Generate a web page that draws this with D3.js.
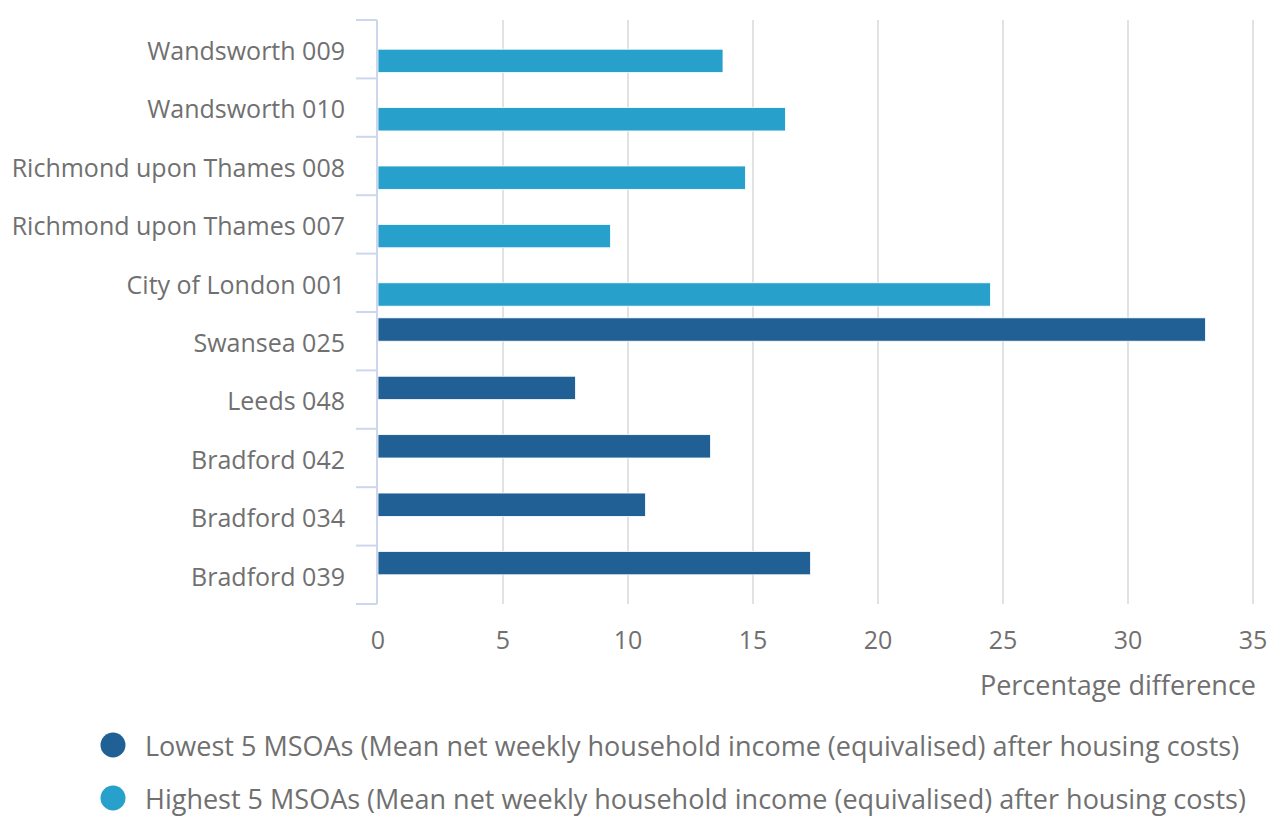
<!DOCTYPE html>
<html>
<head>
<meta charset="utf-8">
<script src="https://cdn.jsdelivr.net/npm/d3@7"></script>
<style>
  body { margin: 0; background: #fff; }
  text { font-family: "Open Sans", sans-serif; fill: #707070; }
</style>
</head>
<body>
<div id="chart"></div>
<script>
var svgWidth = 1269;
var svgHeight = 817;
var margin = { top: 20, right: 15, bottom: 213, left: 378 };
var width = svgWidth - margin.left - margin.right;
var height = svgHeight - margin.top - margin.bottom;

// data
var categories = ["Wandsworth 009", "Wandsworth 010", "Richmond upon Thames 008", "Richmond upon Thames 007",
  "City of London 001", "Swansea 025", "Leeds 048", "Bradford 042", "Bradford 034", "Bradford 039"];
var seriesNames = ["Lowest 5 MSOAs (Mean net weekly household income (equivalised) after housing costs)",
  "Highest 5 MSOAs (Mean net weekly household income (equivalised) after housing costs)"];
var lowestValues = [null, null, null, null, null, 33.1, 7.9, 13.3, 10.7, 17.3];
var highestValues = [13.8, 16.3, 14.7, 9.3, 24.5, null, null, null, null, null];
var xTicks = [0, 5, 10, 15, 20, 25, 30, 35];
var colours = ["#206095", "#27a0cc"];

var svg = d3.select("#chart").append("svg")
  .attr("width", svgWidth)
  .attr("height", svgHeight);
var chart = svg.append("g")
  .attr("transform", `translate(${margin.left}, ${margin.top})`);

var x = d3.scaleLinear().domain([0, 35]).range([0, width - 1]);
var y = d3.scaleBand().domain(categories).range([0, 584]).paddingInner(0.2).paddingOuter(0.1);
var yOuter = d3.scaleBand().domain(categories).range([0, 584]);
var ySub = d3.scaleBand().domain([0, 1]).range([0, y.bandwidth()]);

// gridlines
chart.selectAll(".grid").data(xTicks.slice(1)).enter().append("line")
  .attr("x1", d => x(d)).attr("x2", d => x(d))
  .attr("y1", 0).attr("y2", 584)
  .attr("stroke", "#e2e2e2").attr("stroke-width", 2);

// bars
var rows = categories.map((c, i) => ({ cat: c, vals: [lowestValues[i], highestValues[i]] }));
rows.forEach(function(r) {
  r.vals.forEach(function(v, s) {
    if (v == null) return;
    chart.append("rect")
      .attr("x", x(0))
      .attr("y", y(r.cat) + ySub(s))
      .attr("width", x(v) - x(0))
      .attr("height", ySub.bandwidth())
      .attr("fill", colours[s])
      .attr("stroke", "#fff").attr("stroke-width", 0.8);
  });
});

// y axis
var yAxis = chart.append("g");
yAxis.append("line").attr("x1", -1).attr("x2", -1).attr("y1", 0).attr("y2", 584)
  .attr("stroke", "#ccd6ec").attr("stroke-width", 2);
var tickYs = categories.map(c => yOuter(c)).concat([584]);
yAxis.selectAll(".tk").data(tickYs).enter().append("line")
  .attr("x1", -22).attr("x2", -1).attr("y1", d => d).attr("y2", d => d)
  .attr("stroke", "#ccd6ec").attr("stroke-width", 2);
yAxis.selectAll(".lbl").data(categories).enter().append("text")
  .attr("x", -33)
  .attr("y", d => yOuter(d) + yOuter.bandwidth() / 2 + 2)
  .attr("dy", "0.35em")
  .attr("text-anchor", "end")
  .style("font-size", "25px")
  .text(d => d);

// x axis
var xAxis = chart.append("g").attr("transform", `translate(0, ${584})`);
xAxis.selectAll("text").data(xTicks).enter().append("text")
  .attr("x", d => x(d))
  .attr("y", 36)
  .attr("dy", "0.35em")
  .attr("text-anchor", "middle")
  .style("font-size", "25px")
  .text(d => d);
xAxis.append("text")
  .attr("x", x(35) + 3)
  .attr("y", 82)
  .attr("dy", "0.35em")
  .attr("text-anchor", "end")
  .style("font-size", "27px")
  .text("Percentage difference");

// legend
var legend = svg.append("g").attr("transform", "translate(113, 745)");
seriesNames.forEach(function(name, i) {
  var g = legend.append("g").attr("transform", `translate(0, ${i * 53})`);
  g.append("circle").attr("r", 12.5).attr("fill", colours[i]);
  g.append("text").attr("x", 32).attr("y", 2).attr("dy", "0.35em")
    .style("font-size", "27px").text(name);
});
</script>
</body>
</html>
